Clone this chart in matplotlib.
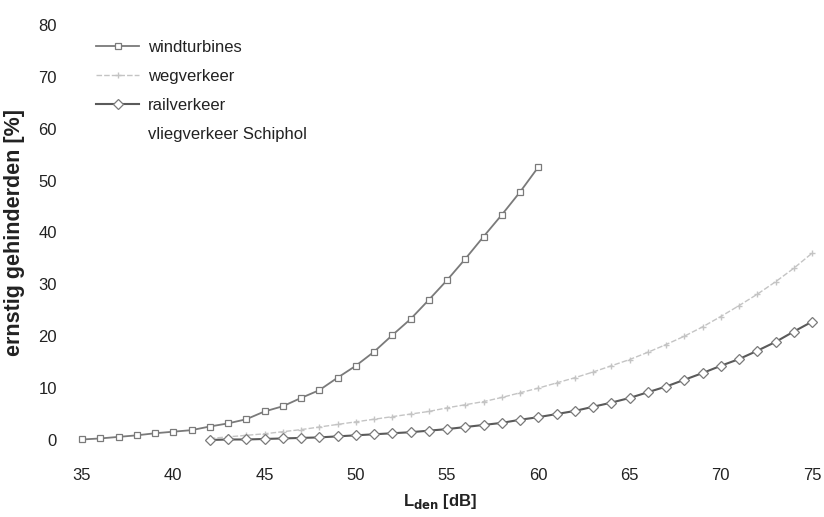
import matplotlib

matplotlib.use("Agg")

import matplotlib.pyplot as plt

plt.rcParams["font.family"] = ["Liberation Sans", "DejaVu Sans"]

# windturbines, 35..60 dB
wind_x = list(range(35, 61))
wind_y = [0.1, 0.3, 0.6, 0.9, 1.3, 1.6, 1.9, 2.6, 3.2, 4.0, 5.5, 6.5, 8.1, 9.6,
          12.0, 14.3, 17.0, 20.2, 23.3, 27.0, 30.8, 34.9, 39.2, 43.4, 47.8, 52.6]

# wegverkeer, 42..75 dB
road_x = list(range(42, 76))
road_y = [0.3, 0.6, 0.9, 1.2, 1.6, 2.0, 2.5, 3.0, 3.5, 4.0, 4.5, 5.0, 5.5, 6.2,
          6.8, 7.4, 8.2, 9.1, 10.0, 11.0, 12.0, 13.1, 14.3, 15.5, 16.9, 18.4,
          20.0, 21.8, 23.8, 25.9, 28.1, 30.5, 33.1, 36.0]

# railverkeer, 42..75 dB
rail_x = list(range(42, 76))
rail_y = [0.0, 0.1, 0.1, 0.2, 0.3, 0.4, 0.5, 0.7, 0.9, 1.1, 1.3, 1.5, 1.8, 2.1,
          2.5, 2.9, 3.3, 3.9, 4.4, 5.0, 5.6, 6.4, 7.2, 8.1, 9.2, 10.3, 11.6,
          12.9, 14.3, 15.6, 17.2, 18.9, 20.9, 22.8]

x_ticks = [35, 40, 45, 50, 55, 60, 65, 70, 75]
y_ticks = [0, 10, 20, 30, 40, 50, 60, 70, 80]

fig = plt.figure(figsize=(8.24, 5.17), dpi=100)
ax = fig.add_axes([82 / 824, 1 - 440 / 517, 730 / 824, 415 / 517])

ax.plot(wind_x, wind_y, color="#7a7a7a", linewidth=1.3, marker="s", markersize=5,
        markerfacecolor="white", markeredgecolor="#7a7a7a", markeredgewidth=0.9,
        label="windturbines", clip_on=False)
ax.plot(road_x, road_y, color="#c4c4c4", linewidth=1.0, linestyle=(0, (4, 1.5)),
        marker="+", markersize=4, markeredgecolor="#c4c4c4",
        label="wegverkeer", clip_on=False)
ax.plot(rail_x, rail_y, color="#5a5a5a", linewidth=1.5, marker="D", markersize=5,
        markerfacecolor="white", markeredgecolor="#7a7a7a", markeredgewidth=0.9,
        label="railverkeer", clip_on=False)
ax.plot([], [], color="none", label="vliegverkeer Schiphol")

ax.set_xlim(35, 75)
ax.set_ylim(0, 80)
ax.set_xticks(x_ticks)
ax.set_yticks(y_ticks)
ax.tick_params(length=0, labelsize=12, colors="#222222")
ax.tick_params(axis="x", pad=20)
ax.tick_params(axis="y", pad=18)
for side in ax.spines.values():
    side.set_visible(False)

ax.set_ylabel("ernstig gehinderden [%]", fontsize=15.5, fontweight="bold", color="#222222")
ax.yaxis.set_label_coords(-0.078, 0.50)
ax.set_xlabel(r"L$_{\mathbf{den}}$ [dB]", fontsize=12, fontweight="bold", color="#222222")
ax.xaxis.set_label_coords(0.49, -0.125)

ax.legend(loc="upper left", bbox_to_anchor=(96 / 824, 1 - 40 / 517),
          bbox_transform=fig.transFigure, frameon=False, fontsize=12,
          handlelength=2.6, handletextpad=0.5, labelspacing=0.85,
          borderpad=0, borderaxespad=0, labelcolor="#222222")

fig.savefig("out.png", dpi=100)
plt.close(fig)
